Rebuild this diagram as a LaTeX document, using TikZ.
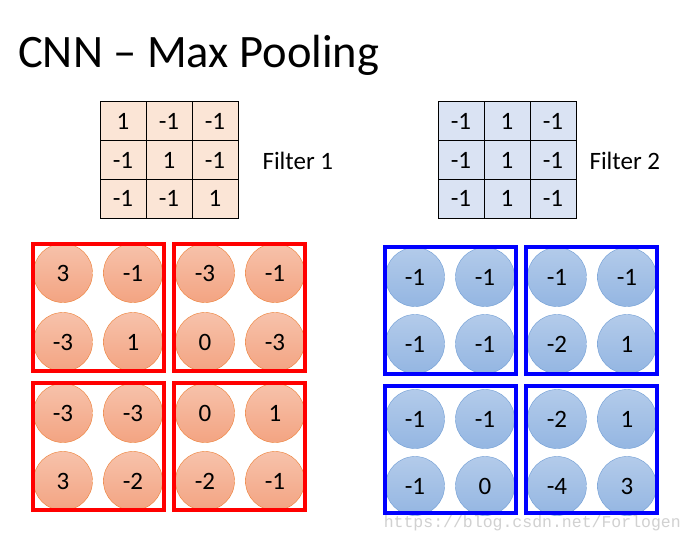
\documentclass[tikz,border=0pt]{standalone}
\usepackage{fontspec}
\setmainfont{Carlito}
\setmonofont{Liberation Mono}
\usepackage{xcolor}
\usetikzlibrary{shapes,positioning}
\definecolor{cellred}{HTML}{FBE5D6}
\definecolor{cellblue}{HTML}{DAE3F3}
\definecolor{redtop}{HTML}{F7C2AB}
\definecolor{redbot}{HTML}{F3A482}
\definecolor{rededge}{HTML}{ED7D31}
\definecolor{bluetop}{HTML}{B3CBEA}
\definecolor{bluebot}{HTML}{94B6E2}
\definecolor{blueedge}{HTML}{6E9CD4}
\tikzset{cell/.style={rectangle,draw,line width=1pt,minimum width=46pt,minimum height=38.7pt,inner sep=0pt,font=\fontsize{25}{25}\selectfont}}
\tikzset{rball/.style={circle,draw=rededge,top color=redtop,bottom color=redbot,minimum size=59pt,inner sep=0pt,font=\fontsize{25}{25}\selectfont}}
\tikzset{bball/.style={circle,draw=blueedge,top color=bluetop,bottom color=bluebot,minimum size=59pt,inner sep=0pt,font=\fontsize{25}{25}\selectfont}}
\tikzset{pool/.style={rectangle,draw,line width=4pt,minimum width=131pt,minimum height=127pt,inner sep=0pt}}

\begin{document}
\begin{tikzpicture}[x=1pt,y=-1pt]
    \useasboundingbox[fill=white] (0,0) rectangle (692,542);
    \node[anchor=base west,inner sep=0pt,font=\fontsize{46.5}{46.5}\selectfont] (title)at (18,67) {CNN -- Max Pooling};

    % filter 1
    \node[cell,fill=cellred] (fa1)at (123,121.3) {1};
    \node[cell,fill=cellred] (fa2)at (169,121.3) {-1};
    \node[cell,fill=cellred] (fa3)at (215,121.3) {-1};
    \node[cell,fill=cellred] (fa4)at (123,160) {-1};
    \node[cell,fill=cellred] (fa5)at (169,160) {1};
    \node[cell,fill=cellred] (fa6)at (215,160) {-1};
    \node[cell,fill=cellred] (fa7)at (123,198.7) {-1};
    \node[cell,fill=cellred] (fa8)at (169,198.7) {-1};
    \node[cell,fill=cellred] (fa9)at (215,198.7) {1};
    \node[anchor=west,font=\fontsize{25}{25}\selectfont] (la)at (259,161) {Filter 1};

    % filter 2
    \node[cell,fill=cellblue] (fb1)at (461,121.3) {-1};
    \node[cell,fill=cellblue] (fb2)at (507,121.3) {1};
    \node[cell,fill=cellblue] (fb3)at (553,121.3) {-1};
    \node[cell,fill=cellblue] (fb4)at (461,160) {-1};
    \node[cell,fill=cellblue] (fb5)at (507,160) {1};
    \node[cell,fill=cellblue] (fb6)at (553,160) {-1};
    \node[cell,fill=cellblue] (fb7)at (461,198.7) {-1};
    \node[cell,fill=cellblue] (fb8)at (507,198.7) {1};
    \node[cell,fill=cellblue] (fb9)at (553,198.7) {-1};
    \node[anchor=west,font=\fontsize{25}{25}\selectfont] (lb)at (586,161) {Filter 2};

    % feature map of filter 1
    \node[rball] (r1)at (63,273) {3};
    \node[rball] (r2)at (133,273) {-1};
    \node[rball] (r3)at (205,273) {-3};
    \node[rball] (r4)at (275,273) {-1};
    \node[rball] (r5)at (63,342) {-3};
    \node[rball] (r6)at (133,342) {1};
    \node[rball] (r7)at (205,342) {0};
    \node[rball] (r8)at (275,342) {-3};
    \node[rball] (r9)at (63,413) {-3};
    \node[rball] (r10)at (133,413) {-3};
    \node[rball] (r11)at (205,413) {0};
    \node[rball] (r12)at (275,413) {1};
    \node[rball] (r13)at (63,481) {3};
    \node[rball] (r14)at (133,481) {-2};
    \node[rball] (r15)at (205,481) {-2};
    \node[rball] (r16)at (275,481) {-1};

    % feature map of filter 2
    \node[bball] (b1)at (415,277) {-1};
    \node[bball] (b2)at (485,277) {-1};
    \node[bball] (b3)at (557,277) {-1};
    \node[bball] (b4)at (627,277) {-1};
    \node[bball] (b5)at (415,344) {-1};
    \node[bball] (b6)at (485,344) {-1};
    \node[bball] (b7)at (557,344) {-2};
    \node[bball] (b8)at (627,344) {1};
    \node[bball] (b9)at (415,419) {-1};
    \node[bball] (b10)at (485,419) {-1};
    \node[bball] (b11)at (557,419) {-2};
    \node[bball] (b12)at (627,419) {1};
    \node[bball] (b13)at (415,486) {-1};
    \node[bball] (b14)at (485,486) {0};
    \node[bball] (b15)at (557,486) {-4};
    \node[bball] (b16)at (627,486) {3};

    % pooling windows
    \node[pool,red] (pa1)at (98,307.5) {};
    \node[pool,red] (pa2)at (239.5,307.5) {};
    \node[pool,red] (pa3)at (98,446) {};
    \node[pool,red] (pa4)at (239.5,446) {};
    \node[pool,blue] (pb1)at (450,310) {};
    \node[pool,blue] (pb2)at (591.5,310) {};
    \node[pool,blue] (pb3)at (450,449.5) {};
    \node[pool,blue] (pb4)at (591.5,449.5) {};

    \node[anchor=base east,inner sep=0pt,text=black!18,font=\ttfamily\fontsize{16.5}{16.5}\selectfont] (mark)at (681,527) {https://blog.csdn.net/Forlogen};
\end{tikzpicture}
\end{document}
